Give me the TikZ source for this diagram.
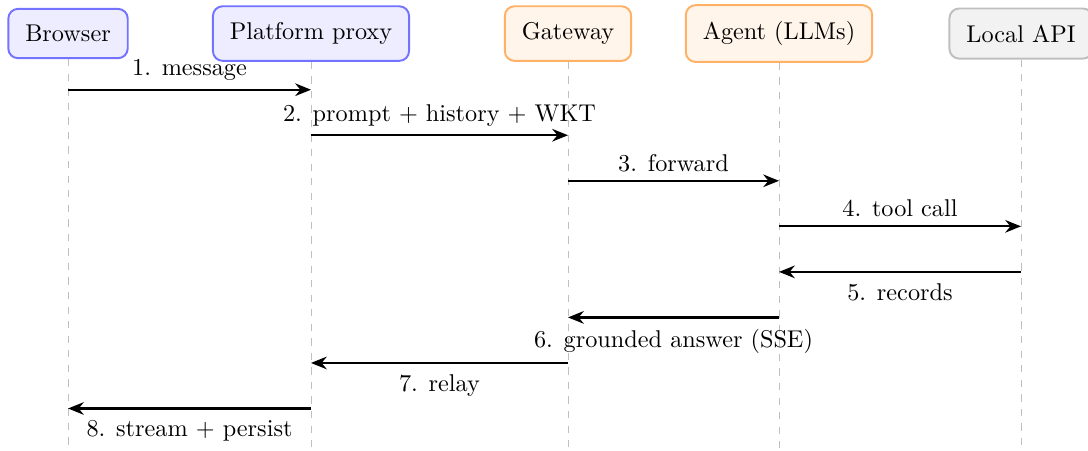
\documentclass[tikz,border=0pt]{standalone}
\usepackage{tikz}
\usepackage{xcolor}
\usetikzlibrary{arrows.meta}

\begin{document}
\begin{tikzpicture}[
    actor/.style={draw, thick, rounded corners=4pt, inner xsep=7pt, inner ysep=6.7pt},
    usr/.style={actor, draw=blue!55, fill=blue!7},
    srv/.style={actor, draw=orange!60, fill=orange!8},
    ext/.style={actor, draw=gray!50, fill=gray!10},
    lifeline/.style={gray!50, dashed, thin},
    msg/.style={line width=0.9pt, -{Stealth[length=6.5pt, width=5.2pt]}}
  ]
  \useasboundingbox (0, 0) rectangle (15.768, -6.522);

  % Actors
  \node[usr] (browser) at (0.986, -0.486) {Browser};
  \node[usr] (proxy) at (4.507, -0.486) {Platform proxy};
  \node[srv] (gateway) at (8.232, -0.486) {Gateway};
  \node[srv] (agent) at (11.290, -0.486) {Agent (LLMs)};
  \node[ext] (localapi) at (14.797, -0.486) {Local API};

  % Lifelines
  \coordinate (bottom) at (0, -6.522);
  \draw[lifeline] (browser.south) -- (browser |- bottom);
  \draw[lifeline] (proxy.south) -- (proxy |- bottom);
  \draw[lifeline] (gateway.south) -- (gateway |- bottom);
  \draw[lifeline] (agent.south) -- (agent |- bottom);
  \draw[lifeline] (localapi.south) -- (localapi |- bottom);

  % Message rows
  \coordinate (m1) at (0, -1.30);
  \coordinate (m2) at (0, -1.96);
  \coordinate (m3) at (0, -2.62);
  \coordinate (m4) at (0, -3.28);
  \coordinate (m5) at (0, -3.94);
  \coordinate (m6) at (0, -4.60);
  \coordinate (m7) at (0, -5.26);
  \coordinate (m8) at (0, -5.92);

  % Requests
  \draw[msg] (browser |- m1) -- node[above] {1. message} (proxy |- m1);
  \draw[msg] (proxy |- m2) -- node[above] {2. prompt + history + WKT} (gateway |- m2);
  \draw[msg] (gateway |- m3) -- node[above] {3. forward} (agent |- m3);
  \draw[msg] (agent |- m4) -- node[above] {4. tool call} (localapi |- m4);

  % Replies
  \draw[msg] (localapi |- m5) -- node[below=1.2pt] {5. records} (agent |- m5);
  \draw[msg] (agent |- m6) -- node[below=1.2pt] {6. grounded answer (SSE)} (gateway |- m6);
  \draw[msg] (gateway |- m7) -- node[below=1.2pt] {7. relay} (proxy |- m7);
  \draw[msg] (proxy |- m8) -- node[below=1.2pt] {8. stream + persist} (browser |- m8);
\end{tikzpicture}
\end{document}
